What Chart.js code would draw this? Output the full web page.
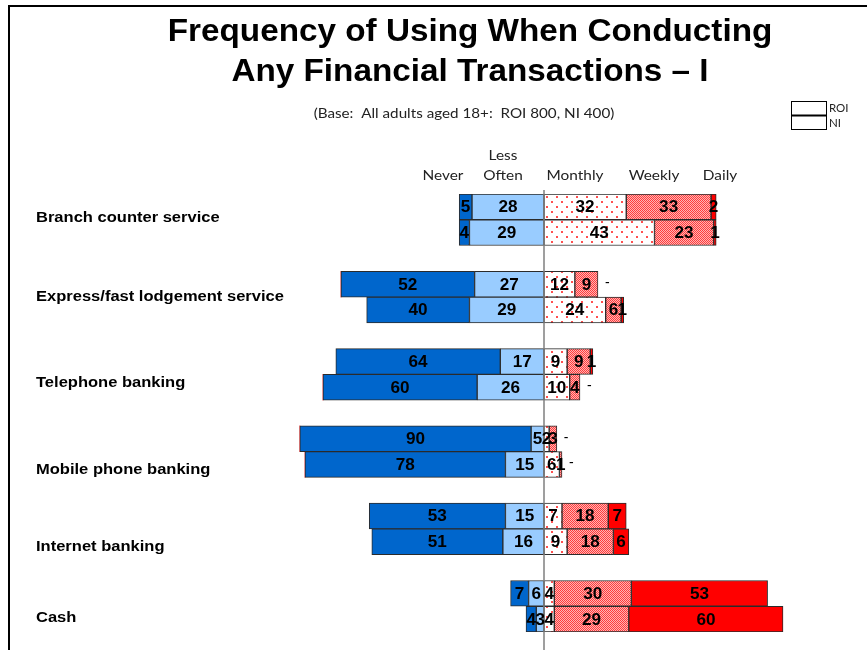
<!DOCTYPE html>
<html>
<head>
<meta charset="utf-8">
<script src="https://cdn.jsdelivr.net/npm/chart.js@4.4.1/dist/chart.umd.min.js"></script>
<style>
html,body{margin:0;padding:0;background:#fff}
#wrap{width:867px;height:650px;position:relative}
</style>
</head>
<body>
<div id="wrap"><canvas id="chart"></canvas></div>
<script>
// services, top to bottom; each one gets an ROI bar then an NI bar
const services = ['Branch counter service','Express/fast lodgement service','Telephone banking','Mobile phone banking','Internet banking','Cash']
const regions = ['ROI','NI']

const neverROI   = [5,52,64,90,53,7]
const neverNI    = [4,40,60,78,51,4]
const lessROI    = [28,27,17,5,15,6]
const lessNI     = [29,29,26,15,16,3]
const monthlyROI = [32,12,9,2,7,4]
const monthlyNI  = [43,24,10,6,9,4]
const weeklyROI  = [33,9,9,3,18,30]
const weeklyNI   = [23,6,4,1,18,29]
const dailyROI   = [2,0,1,0,7,53]
const dailyNI    = [1,1,0,0,6,60]

// label nudges so the service names sit like in the deck
const labelShift = [-2,0,9,18,18,12]

// ROI, NI, blank spacer row, ROI, NI, ...
function rows(roi, ni, sign){
    let out = []
    roi.forEach((v,i)=>{
        if(i) out.push(null)
        out.push(sign*roi[i], sign*ni[i])
    })
    return out
}
let rowLabels = rows(neverROI, neverNI, 1).map(()=> '')

function dots(){
    let c = document.createElement('canvas')
    c.width = 10; c.height = 10
    let g = c.getContext('2d')
    g.fillStyle = '#fff'; g.fillRect(0,0,10,10)
    g.fillStyle = '#ff5050'
    g.fillRect(1,1,2,2); g.fillRect(6,6,2,2)
    return g.createPattern(c,'repeat')
}
function checks(){
    let c = document.createElement('canvas')
    c.width = 2; c.height = 2
    let g = c.getContext('2d')
    g.fillStyle = '#ffb4b4'; g.fillRect(0,0,2,2)
    g.fillStyle = '#ff3c3c'
    g.fillRect(0,0,1,1); g.fillRect(1,1,1,1)
    return g.createPattern(c,'repeat')
}

const bw = ctx => ctx.raw ? 1 : 0
let datasets = [
    {label:'Less Often', data: rows(lessROI, lessNI, -1), backgroundColor:'#99ccff'},
    {label:'Never', data: rows(neverROI, neverNI, -1), backgroundColor:'#0066cc'},
    {label:'Monthly', data: rows(monthlyROI, monthlyNI, 1), backgroundColor: dots()},
    {label:'Weekly', data: rows(weeklyROI, weeklyNI, 1), backgroundColor: checks()},
    {label:'Daily', data: rows(dailyROI, dailyNI, 1), backgroundColor:'#ff0000'}
]
datasets.forEach(d=>{ d.borderColor = '#2b2b2b'; d.borderWidth = bw })

// the deck's text is a little wider than the font, so stretch it sideways
function wideText(c, txt, x, y, sx, align){
    c.save()
    c.translate(x, y)
    c.scale(sx, 1)
    c.textAlign = align
    c.fillText(txt, 0, 0)
    c.restore()
}

const valueFont = 'bold 16px "Liberation Sans", Arial, sans-serif'

// frame, centre line, values and all the surrounding text
const decor = {
    id:'decor',
    beforeDraw(chart){
        let c = chart.ctx
        c.save()
        c.fillStyle = '#000'
        c.fillRect(8,5,chart.width-8,2)
        c.fillRect(8,5,2,chart.height-5)
        c.restore()
    },
    afterDatasetsDraw(chart){
        let c = chart.ctx
        let x0 = chart.scales.x.getPixelForValue(0)
        c.save()
        c.strokeStyle = '#7f7f7f'
        c.lineWidth = 1.5
        c.beginPath()
        c.moveTo(x0, chart.chartArea.top - 4)
        c.lineTo(x0, chart.height)
        c.stroke()

        c.fillStyle = '#000'
        c.textBaseline = 'middle'
        chart.data.datasets.forEach((ds,di)=>{
            let meta = chart.getDatasetMeta(di)
            meta.data.forEach((el,i)=>{
                let v = ds.data[i]
                if(v == null) return
                if(v === 0){
                    if(ds.label === 'Daily'){
                        // right end of the row's positive stack
                        let end = x0
                        chart.data.datasets.forEach((d2,k)=>{
                            if(d2.data[i] > 0) end = Math.max(end, chart.getDatasetMeta(k).data[i].x)
                        })
                        c.font = '14px "Liberation Sans", Arial, sans-serif'
                        wideText(c, '-', end + 7, el.y - 1, 1, 'left')
                    }
                    return
                }
                c.font = valueFont
                wideText(c, String(Math.abs(v)), (el.x + el.base)/2, el.y + 1, 1.07, 'center')
            })
        })
        c.restore()
    },
    afterDraw(chart){
        let c = chart.ctx
        let y = chart.scales.y
        c.save()
        c.fillStyle = '#000'
        c.textBaseline = 'middle'
        c.font = 'bold 32px "Liberation Sans", Arial, sans-serif'
        wideText(c, 'Frequency of Using When Conducting', 470, 32, 1.04, 'center')
        wideText(c, 'Any Financial Transactions \u2013 I', 470, 72, 1.04, 'center')

        c.font = '13px Lato, "Open Sans", sans-serif'
        c.fillStyle = '#222'
        wideText(c, '(Base:  All adults aged 18+:  ROI 800, NI 400)', 464, 114, 1.17, 'center')

        // column headings
        c.font = '14px Lato, "Open Sans", sans-serif'
        wideText(c, 'Never', 443, 175, 1.1, 'center')
        wideText(c, 'Less', 503, 155, 1.1, 'center')
        wideText(c, 'Often', 503, 175, 1.1, 'center')
        wideText(c, 'Monthly', 575, 175, 1.1, 'center')
        wideText(c, 'Weekly', 654, 175, 1.1, 'center')
        wideText(c, 'Daily', 720, 175, 1.1, 'center')

        // region key
        c.strokeStyle = '#000'
        c.lineWidth = 1
        c.strokeRect(791.5,101.5,35,14)
        c.strokeRect(791.5,115.5,35,14)
        c.lineWidth = 2
        c.beginPath(); c.moveTo(791,115.5); c.lineTo(827,115.5); c.stroke()
        c.font = '11.5px Lato, "Open Sans", sans-serif'
        wideText(c, regions[0], 829, 108, 1, 'left')
        wideText(c, regions[1], 829, 123, 1, 'left')

        // service names
        c.fillStyle = '#000'
        c.font = 'bold 14px "Liberation Sans", Arial, sans-serif'
        services.forEach((s,g)=>{
            let mid = (y.getPixelForValue(g*3) + y.getPixelForValue(g*3+1))/2
            wideText(c, s, 36, mid + labelShift[g], 1.18, 'left')
        })
        c.restore()
    }
}

new Chart(document.getElementById('chart'), {
    type:'bar',
    data:{labels: rowLabels, datasets: datasets},
    options:{
        indexAxis:'y',
        responsive:true,
        maintainAspectRatio:false,
        animation:false,
        layout:{padding:{left:287, right:66, top:194, bottom:18}},
        datasets:{bar:{categoryPercentage:1, barPercentage:1, borderSkipped:false}},
        scales:{
            x:{display:false, stacked:true, min:-100, max:100},
            y:{display:false, stacked:true}
        },
        plugins:{legend:{display:false}, tooltip:{enabled:false}}
    },
    plugins:[decor]
})
</script>
</body>
</html>
